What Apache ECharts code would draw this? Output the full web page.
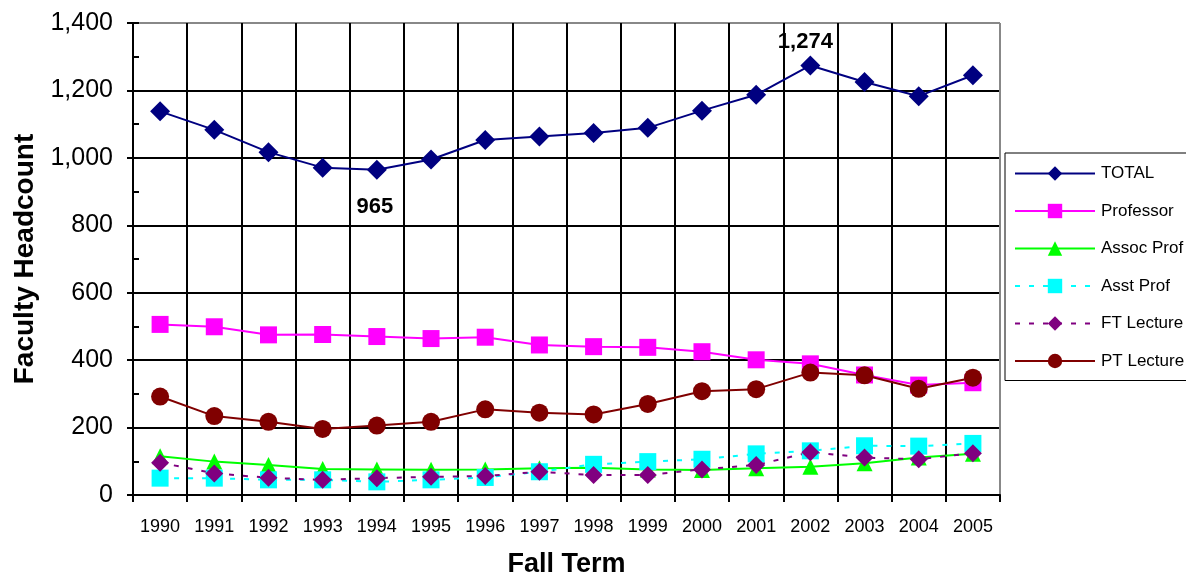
<!DOCTYPE html>
<html><head><meta charset="utf-8">
<script src="https://cdn.jsdelivr.net/npm/echarts@6/dist/echarts.min.js"></script>
<style>html,body{margin:0;padding:0;background:#fff}#c{width:1186px;height:573px}</style>
</head><body><div id="c"></div>
<script>
const years = ['1990','1991','1992','1993','1994','1995','1996','1997','1998','1999','2000','2001','2002','2003','2004','2005'];
const total = [1138,1083,1017,971,965,995,1053,1063,1074,1089,1140,1187,1274,1225,1183,1245];
const professor = [506,499,475,476,470,464,468,445,440,438,425,401,389,356,326,333];
const assocProf = [115,99,89,77,76,75,76,79,81,76,74,79,84,94,111,122];
const asstProf = [50,50,45,45,39,45,52,69,91,99,106,122,131,146,145,153];
const ftLecture = [96,64,51,45,50,54,56,69,59,59,76,89,127,111,106,124];
const ptLecture = [292,234,217,196,206,217,254,244,239,270,308,314,363,355,315,348];
const yTicks = [0,200,400,600,800,1000,1200,1400];

const fmt = v => v.toLocaleString('en-US');
const labelled = (arr, idx, pos, dist, off) => arr.map((v,i) => i===idx ? {value:v,label:{show:true,position:pos,distance:dist,offset:off,formatter:p=>fmt(p.value),fontFamily:'Liberation Sans',fontWeight:'bold',fontSize:22,color:'#000'}} : v);

const vColors = years.map(()=> '#000'); vColors.push('#888');
const hColors = yTicks.map((t,i)=> i===yTicks.length-1 ? '#888' : '#000');

function line(name, data, color, symbol, size, dashed){
  return {name, type:'line', data, symbol, symbolSize:size, showSymbol:true,
    lineStyle:{color, width:2, type: dashed ? [5,9] : 'solid'},
    itemStyle:{color, borderWidth:0},
    emphasis:{disabled:true}, animation:false};
}

const chart = echarts.init(document.getElementById('c'), null, {renderer:'canvas'});
chart.setOption({
  animation:false,
  backgroundColor:'#fff',
  grid:{left:133, top:23, right:186, bottom:78, show:false, containLabel:false, outerBoundsMode:'none'},
  legend:{
    orient:'vertical', left:1005, top:153,
    backgroundColor:'#fff', borderColor:'#000', borderWidth:1,
    padding:[12,6,11,9], itemWidth:80, itemHeight:18, itemGap:20.5,
    textStyle:{fontFamily:'Liberation Sans', fontSize:17, color:'#000', padding:[0,0,0,1]},
    data:['TOTAL','Professor','Assoc Prof','Asst Prof','FT Lecture','PT Lecture']
  },
  xAxis:{
    type:'category', data:years, boundaryGap:true,
    name:'Fall Term', nameLocation:'middle', nameGap:56,
    nameTextStyle:{fontFamily:'Liberation Sans', fontWeight:'bold', fontSize:27, color:'#000'},
    axisLine:{lineStyle:{color:'#000', width:2}},
    axisTick:{show:true, length:7, lineStyle:{color:'#000', width:2}},
    axisLabel:{margin:23, fontFamily:'Liberation Sans', fontSize:18, color:'#000'},
    splitLine:{show:true, lineStyle:{color:vColors, width:2}}
  },
  yAxis:[{
    type:'value', min:0, max:1400, interval:200,
    name:'Faculty Headcount', nameLocation:'middle', nameGap:93, nameRotate:90,
    nameTextStyle:{fontFamily:'Liberation Sans', fontWeight:'bold', fontSize:28, color:'#000'},
    axisLine:{show:true, lineStyle:{color:'#000', width:2}},
    axisTick:{show:true, length:6, lineStyle:{color:'#000', width:2}},
    axisLabel:{margin:20, fontFamily:'Liberation Sans', fontSize:25, color:'#000', formatter:v=>fmt(v)},
    splitLine:{show:true, lineStyle:{color:hColors, width:2}}
  },{
    type:'value', min:0, max:1400, interval:100, position:'left',
    axisLine:{show:false}, axisLabel:{show:false}, splitLine:{show:false},
    axisTick:{show:true, inside:true, length:6, lineStyle:{color:'#000', width:2}}
  }],
  series:[
    line('TOTAL', labelled(labelled(total,4,'bottom',16,[-2,0]),12,'top',3,[-5,0]), '#000080', 'diamond', 20, false),
    line('Professor', professor, '#FF00FF', 'rect', 17, false),
    line('Assoc Prof', assocProf, '#00FF00', 'triangle', 16, false),
    line('Asst Prof', asstProf, '#00FFFF', 'rect', 17, true),
    line('FT Lecture', ftLecture, '#800080', 'diamond', 18, true),
    line('PT Lecture', ptLecture, '#800000', 'circle', 18, false)
  ]
});
</script></body></html>
